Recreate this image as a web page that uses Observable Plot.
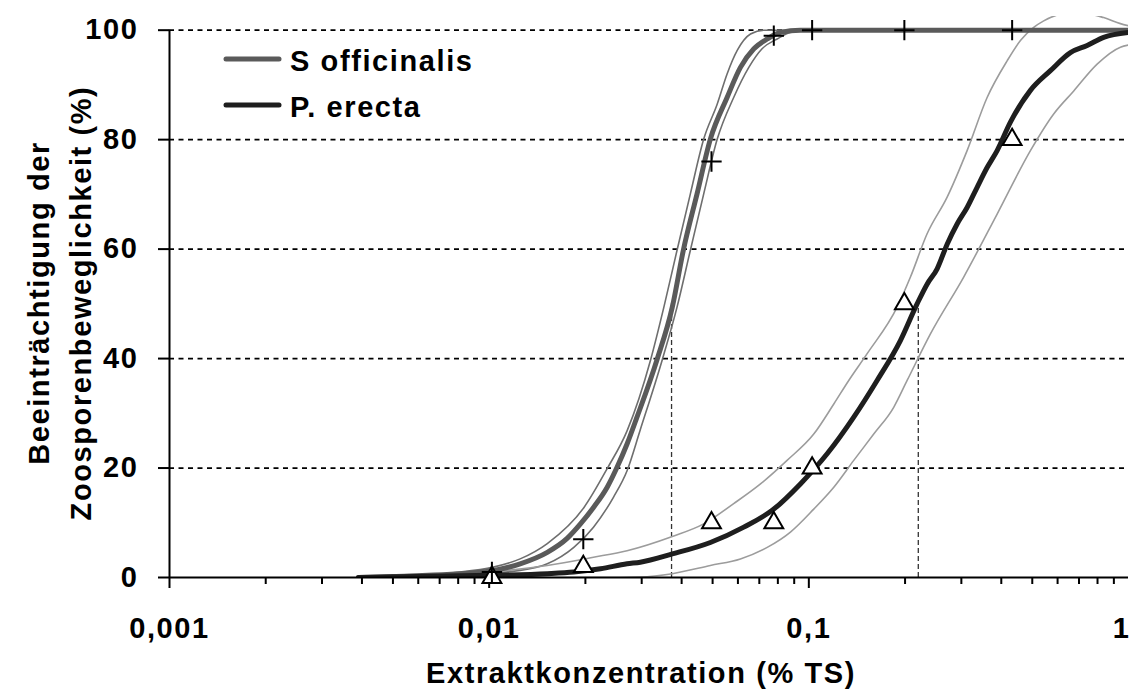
<!DOCTYPE html>
<html>
<head>
<meta charset="utf-8">
<script src="https://cdn.jsdelivr.net/npm/d3@7"></script>
<script src="https://cdn.jsdelivr.net/npm/@observablehq/plot@0.6"></script>
<style>
  html, body { margin: 0; padding: 0; background: #fff; }
  #chart svg text { font-weight: bold; letter-spacing: 1.6px; }
</style>
</head>
<body>
<div id="chart"></div>
<script>
// ---------- tick definitions ----------
const xTicks = [0.001, 0.01, 0.1, 1];
const xTickLabels = ["0,001", "0,01", "0,1", "1"];
const xMinorTicks = [0.002, 0.003, 0.004, 0.005, 0.006, 0.007, 0.008, 0.009,
                     0.02, 0.03, 0.04, 0.05, 0.06, 0.07, 0.08, 0.09,
                     0.2, 0.3, 0.4, 0.5, 0.6, 0.7, 0.8, 0.9];
const yTicks = [0, 20, 40, 60, 80, 100];
const gridValues = [20, 40, 60, 80, 100];

// ---------- labels ----------
const xLabel = "Extraktkonzentration (% TS)";
const yLabel = "Beeinträchtigung der\nZoosporenbeweglichkeit (%)";
const seriesNames = ["S officinalis", "P. erecta"];

// ---------- observed points ----------
const concentrations = [0.0102, 0.0197, 0.0496, 0.0777, 0.1024, 0.199, 0.4325];
const sOfficinalisObserved = [1, 7, 76, 99, 100, 100, 100];
const pErectaObserved = [0, 2, 10, 10, 20, 50, 80];

// ---------- LC50 drop lines ----------
const lc50Conc = [0.0372, 0.220];
const lc50Level = [50, 50];

// ---------- fitted curves [concentration, %] ----------
const sOfficinalisFit = [[0.0039,0],[0.005,0.2],[0.0076,0.6],[0.0101,1.2],[0.0125,2.5],[0.0152,4.6],[0.0175,7.1],[0.0193,9.8],[0.0212,12.8],[0.0234,16.5],[0.0251,20.1],[0.0270,24.4],[0.0290,29.3],[0.0335,39.8],[0.0374,49.4],[0.0405,59.8],[0.0447,70.1],[0.0492,80.1],[0.0555,87.7],[0.0611,93.2],[0.0673,96.6],[0.0741,98.4],[0.0815,99.6],[0.0941,100],[1,100]];
const sOfficinalisUpper = [[0.0039,0],[0.0081,1.0],[0.0103,1.9],[0.0125,3.4],[0.0152,6.2],[0.0198,12.8],[0.0234,19.9],[0.0270,26.8],[0.0320,39.8],[0.0352,49.4],[0.0387,59.8],[0.0426,70.1],[0.0469,80.1],[0.0517,86.5],[0.0555,92.0],[0.0597,96.3],[0.0657,99.3],[0.0723,100],[1,100]];
const sOfficinalisLower = [[0.0039,0],[0.0076,0.4],[0.0125,1.3],[0.0152,2.5],[0.0184,5.5],[0.0212,9.2],[0.0245,14.7],[0.0270,19.5],[0.0297,27.0],[0.0348,39.8],[0.0387,49.4],[0.0426,59.8],[0.0469,70.1],[0.0517,80.1],[0.0582,87.7],[0.0649,93.2],[0.0714,96.6],[0.0796,98.4],[0.0876,99.6],[0.101,100],[1,100]];

const pErectaFit = [[0.0039,0],[0.0101,0.4],[0.0152,0.7],[0.0184,1.0],[0.0223,1.6],[0.0270,2.5],[0.0297,2.8],[0.0374,4.3],[0.0492,6.4],[0.0626,9.2],[0.0777,12.5],[0.0941,17.1],[0.1141,22.6],[0.1382,29.3],[0.1635,36.0],[0.1934,43.3],[0.2181,50.0],[0.2344,53.6],[0.2520,56.4],[0.2708,60.9],[0.2910,64.6],[0.3127,67.6],[0.3361,71.3],[0.3612,74.9],[0.3882,78.0],[0.4272,83.2],[0.4934,89.0],[0.5698,92.6],[0.6581,95.9],[0.7423,97.2],[0.8362,98.7],[1,99.6]];
const pErectaUpper = [[0.0039,0],[0.0076,0.5],[0.0101,1.0],[0.0152,2.2],[0.0212,3.7],[0.0270,4.9],[0.0374,7.5],[0.0469,9.8],[0.0582,13.5],[0.0706,17.1],[0.0855,21.4],[0.1036,26.2],[0.1197,31.7],[0.1333,36.0],[0.1522,40.9],[0.1889,49.4],[0.2079,54.9],[0.2344,62.8],[0.2708,69.5],[0.3127,78.0],[0.3612,87.7],[0.4172,94.4],[0.4591,98.1],[0.5052,100.5],[0.5429,101.7],[0.6346,103],[0.7331,103],[0.8362,102.3],[0.9434,101.2],[1,100.8]];
const pErectaLower = [[0.0039,0],[0.0223,0],[0.0297,0.1],[0.0374,0.7],[0.0492,2.2],[0.0611,3.4],[0.0741,5.5],[0.0876,8.3],[0.1036,12.5],[0.1197,16.5],[0.1382,21.4],[0.1596,26.2],[0.1843,31.1],[0.2030,36.0],[0.2401,44.5],[0.3051,54.9],[0.3882,66.4],[0.4934,78.0],[0.5834,84.7],[0.6741,88.9],[0.7977,93.8],[0.9434,96.9],[1,97.3]];

// ---------- styling ----------
const sColor = "#5a5a5a", sCiColor = "#6e6e6e";
const pColor = "#1e1e1e", pCiColor = "#9c9c9c";

const observed = concentrations.map((c, i) => ({c, s: sOfficinalisObserved[i], p: pErectaObserved[i]}));
const lc50 = lc50Conc.map((c, i) => ({c, v: lc50Level[i]}));
const line = (data, stroke, strokeWidth) =>
  Plot.line(data, {x: d => d[0], y: d => d[1], stroke, strokeWidth, curve: "monotone-x",
                   strokeLinecap: "round", strokeLinejoin: "round", clip: true});

const chart = Plot.plot({
  width: 1129,
  height: 691,
  marginLeft: 169,
  marginRight: 1,
  marginTop: 16,
  marginBottom: 114,
  x: {type: "log", domain: [0.001, 1]},
  y: {domain: [0, 102.5]},
  style: {fontFamily: "'Liberation Sans', Arial, sans-serif", fontSize: "29px", color: "black", background: "white", overflow: "visible"},
  marks: [
    Plot.ruleY(gridValues, {stroke: "black", strokeWidth: 1.8, strokeDasharray: "5,4.5"}),
    Plot.ruleX(lc50, {x: "c", y1: 0, y2: "v", stroke: "#333", strokeWidth: 1.3, strokeDasharray: "5,3"}),
    line(sOfficinalisUpper, sCiColor, 1.6),
    line(sOfficinalisLower, sCiColor, 1.6),
    line(pErectaUpper, pCiColor, 1.6),
    line(pErectaLower, pCiColor, 1.6),
    line(sOfficinalisFit, sColor, 5),
    line(pErectaFit, pColor, 5),
    Plot.ruleX([0.001], {y1: 0, y2: 100, stroke: "black", strokeWidth: 2}),
    Plot.ruleY([0], {stroke: "black", strokeWidth: 2}),
    Plot.axisX({ticks: xMinorTicks, tickSize: 7, strokeWidth: 2, label: null, tickFormat: () => ""}),
    Plot.axisX({ticks: xTicks.slice(0, 3), tickSize: 11, tickPadding: 29, strokeWidth: 2, label: null,
                tickFormat: d => xTickLabels[xTicks.indexOf(d)]}),
    Plot.axisX({ticks: xTicks.slice(3), tickSize: 11, tickPadding: 29, strokeWidth: 2, label: null, textAnchor: "end", dx: 2,
                tickFormat: d => xTickLabels[xTicks.indexOf(d)]}),
    Plot.axisY({ticks: yTicks, tickSize: 11, tickPadding: 20, strokeWidth: 2, label: null, tickFormat: d => String(d)}),
    Plot.text([yLabel], {text: d => d, frameAnchor: "left", textAnchor: "middle", rotate: -90, dx: -113, dy: 6, lineHeight: 1.45}),
    Plot.text([xLabel], {text: d => d, frameAnchor: "bottom", textAnchor: "middle", lineAnchor: "top", dy: 85, dx: -8}),
    Plot.dot(observed, {x: "c", y: "p", symbol: "triangle2", r: 9, stroke: "black", strokeWidth: 2, fill: "white"}),
    Plot.dot(observed, {x: "c", y: "s", symbol: "plus", r: 6.6, stroke: "black", strokeWidth: 2})
  ]
});

// legend inside the plotting area
const svg = d3.select(chart);
const legend = svg.append("g").attr("text-anchor", "start");
const legendItems = [{name: seriesNames[0], color: sColor}, {name: seriesNames[1], color: pColor}];
legendItems.forEach((item, i) => {
  const y = 59 + i * 46;
  legend.append("line").attr("x1", 226).attr("x2", 279).attr("y1", y).attr("y2", y)
    .attr("stroke", item.color).attr("stroke-width", 5).attr("stroke-linecap", "round");
  legend.append("text").attr("x", 290).attr("y", y + 12).attr("fill", "black")
    .attr("text-anchor", "start").text(item.name);
});

document.getElementById("chart").appendChild(chart);
</script>
</body>
</html>
